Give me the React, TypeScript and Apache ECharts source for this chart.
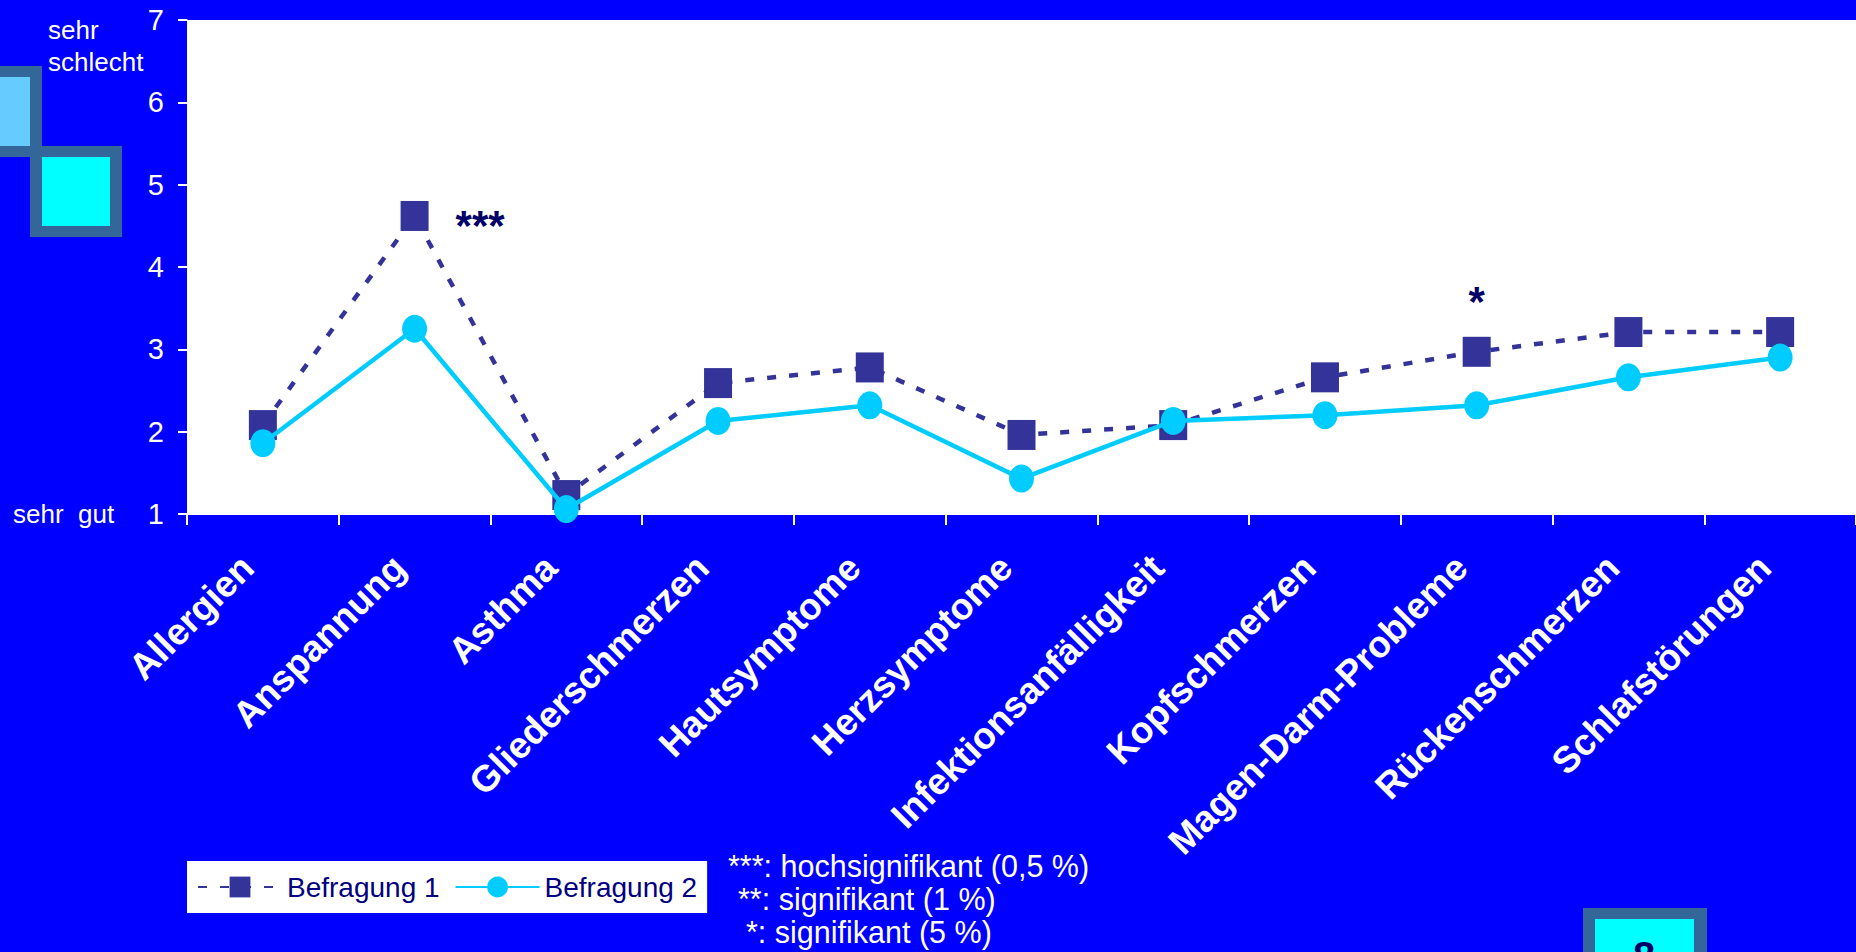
import React, { useEffect, useRef } from 'react'
import * as echarts from 'echarts'

const categories = [
  'Allergien',
  'Anspannung',
  'Asthma',
  'Gliederschmerzen',
  'Hautsymptome',
  'Herzsymptome',
  'Infektionsanfälligkeit',
  'Kopfschmerzen',
  'Magen-Darm-Probleme',
  'Rückenschmerzen',
  'Schlafstörungen'
]
const befragung1 = [2.08, 4.62, 1.23, 2.59, 2.78, 1.96, 2.08, 2.66, 2.97, 3.21, 3.21]
const befragung2 = [1.86, 3.25, 1.06, 2.13, 2.32, 1.43, 2.13, 2.2, 2.32, 2.66, 2.9]
const significance = ['', '***', '', '', '', '', '', '', '*', '', '']
const notes = ['***: hochsignifikant (0,5 %)', '**: signifikant (1 %)', '*: signifikant (5 %)']

const FONT = '"Liberation Sans", Arial, sans-serif'
const NAVY = '#000066'

const App: React.FC = () => {
  const containerRef = useRef<HTMLDivElement>(null)

  useEffect(() => {
    document.body.style.margin = '0'
    if (!containerRef.current) return
    const chart = echarts.init(containerRef.current, undefined, { renderer: 'svg' })

    // '***' sits to the right of its point, '*' above it
    const sigLabel = (s: string) =>
      s === '***'
        ? { show: true, position: 'right', distance: 27, offset: [0, 10], formatter: s, fontSize: 42, fontWeight: 'bold', color: NAVY }
        : { show: true, position: 'top', distance: 2, offset: [0, -12], formatter: s, fontSize: 42, fontWeight: 'bold', color: NAVY }

    const option: echarts.EChartsOption = {
      animation: false,
      backgroundColor: '#0000FF',
      textStyle: { fontFamily: FONT },
      grid: {
        left: 187,
        top: 20,
        right: 0,
        bottom: 438,
        show: true,
        backgroundColor: '#ffffff',
        borderWidth: 0
      },
      legend: {
        left: 187,
        top: 861,
        backgroundColor: '#ffffff',
        padding: [12, 10, 12, 10],
        itemGap: 15,
        itemWidth: 84,
        itemHeight: 26,
        textStyle: { color: '#000080', fontSize: 28, fontFamily: FONT },
        data: ['Befragung 1', 'Befragung 2']
      },
      xAxis: {
        type: 'category',
        data: categories,
        boundaryGap: true,
        axisLine: { lineStyle: { color: '#ffffff', width: 1 } },
        axisTick: { show: true, length: 11, lineStyle: { color: '#ffffff', width: 2 } },
        axisLabel: {
          rotate: 45,
          interval: 0,
          margin: 32,
          padding: [0, 22, 0, 0],
          color: '#ffffff',
          fontSize: 37,
          fontWeight: 'bold',
          fontFamily: FONT
        },
        splitLine: { show: false }
      },
      yAxis: {
        type: 'value',
        min: 1,
        max: 7,
        interval: 1,
        axisLine: { show: true, lineStyle: { color: '#ffffff', width: 1 } },
        axisTick: { show: true, length: 9, lineStyle: { color: '#ffffff', width: 2 } },
        axisLabel: { color: '#ffffff', fontSize: 29, margin: 23, fontFamily: FONT },
        splitLine: { show: false }
      },
      series: [
        {
          name: 'Befragung 1',
          type: 'line',
          data: befragung1.map((v, i) => ({
            value: v,
            label: significance[i] ? sigLabel(significance[i]) : { show: false }
          })),
          symbol: 'rect',
          symbolSize: [28, 30],
          itemStyle: { color: '#333399' },
          lineStyle: { color: '#333399', width: 4.5, type: [9, 13] },
          z: 2
        },
        {
          name: 'Befragung 2',
          type: 'line',
          data: befragung2,
          symbol: 'circle',
          symbolSize: [25, 28],
          itemStyle: { color: '#00CCFF' },
          lineStyle: { color: '#00CCFF', width: 4.5 },
          z: 3
        }
      ],
      graphic: [
        // decorative squares, top left
        { type: 'rect', shape: { x: 0, y: 66, width: 42, height: 91 }, style: { fill: '#336699' } },
        { type: 'rect', shape: { x: 0, y: 77, width: 30, height: 69 }, style: { fill: '#66CCFF' } },
        { type: 'rect', shape: { x: 30, y: 146, width: 92, height: 91 }, style: { fill: '#336699' } },
        { type: 'rect', shape: { x: 42, y: 157, width: 68, height: 69 }, style: { fill: '#00FFFF' } },
        {
          type: 'text',
          x: 48,
          y: 14,
          style: {
            text: 'sehr\nschlecht',
            fill: '#ffffff',
            fontSize: 26,
            fontFamily: FONT,
            lineHeight: 32,
            align: 'left',
            verticalAlign: 'top'
          }
        },
        {
          type: 'text',
          x: 13,
          y: 514,
          style: {
            text: 'sehr  gut',
            fill: '#ffffff',
            fontSize: 26,
            fontFamily: FONT,
            align: 'left',
            verticalAlign: 'middle'
          }
        },
        // significance notes
        ...notes.map((t, i) => ({
          type: 'text' as const,
          x: [728, 738, 746][i],
          y: 866 + i * 33,
          style: {
            text: t,
            fill: '#ffffff',
            fontSize: 30.5,
            fontFamily: FONT,
            align: 'left',
            verticalAlign: 'middle'
          }
        })),
        // page number box
        { type: 'rect', shape: { x: 1583, y: 908, width: 124, height: 60 }, style: { fill: '#336699' } },
        { type: 'rect', shape: { x: 1595, y: 919, width: 99, height: 50 }, style: { fill: '#00FFFF' } },
        {
          type: 'text',
          x: 1644,
          y: 936,
          style: {
            text: '8',
            fill: NAVY,
            fontSize: 40,
            fontWeight: 'bold',
            fontFamily: FONT,
            align: 'center',
            verticalAlign: 'top'
          }
        }
      ]
    }

    chart.setOption(option)

    return () => {
      chart.dispose()
    }
  }, [])

  return <div ref={containerRef} style={{ width: 1856, height: 952 }} />
}

export default App
